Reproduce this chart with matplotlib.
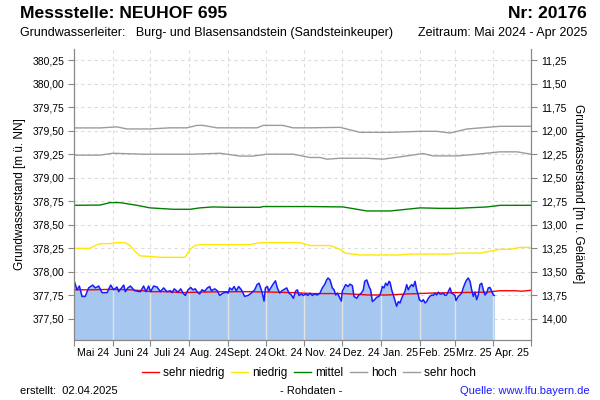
import matplotlib
matplotlib.use("Agg")
import matplotlib.pyplot as plt
from matplotlib.lines import Line2D
from matplotlib.ticker import FuncFormatter, FixedLocator, NullFormatter
import numpy as np
import pandas as pd

plt.rcParams['font.family'] = ['Liberation Sans', 'DejaVu Sans']

# Tage seit 01.05.2024
start = pd.Timestamp('2024-05-01')
gelaende = 391.50  # Geländehöhe [m ü. NN]

# Messwerte (Rohdaten)
mess_tag = [0, 2.4, 4.3, 6.4, 9.0, 11.7, 14.9, 17.0, 19.7, 22.4, 26.4, 29.3, 31.7, 34.3, 35.7,
            39.7, 41.0, 43.0, 45.0, 48.5, 53.0, 55.6, 57.5, 59.6, 61.2, 63.6, 66.3, 69.0, 71.6,
            74.3, 77.0, 78.3, 80.1, 83.1, 85.2, 87.1, 88.9, 91.1, 93.2, 95.0, 96.9, 98.5, 100.4,
            102.2, 104.4, 106.5, 108.4, 109.7, 112.4, 114.5, 116.3, 119.0, 121.7, 123.1, 124.3,
            126.2, 127.8, 129.7, 131.5, 133.7, 135.0, 136.3, 139.0, 141.6, 144.3, 146.2, 147.8,
            149.1, 150.2, 151.8, 152.9, 154.5, 155.5, 157.1, 159.0, 160.9, 162.4, 164.3, 166.1,
            169.9, 171.7, 173.6, 175.2, 177.0, 178.4, 179.7, 181.6, 183.2, 185.0, 186.9, 188.5,
            190.4, 192.2, 194.4, 196.5, 198.3, 200.2, 201.8, 202.9, 204.5, 206.3, 207.7, 209.0,
            210.3, 211.7, 213.5, 214.3, 215.7, 217.0, 218.8, 220.4, 222.3, 223.6, 225.8, 227.6,
            229.5, 231.1, 232.2, 233.8, 235.6, 236.9, 238.3, 240.1, 241.7, 243.6, 244.9, 246.3,
            247.6, 248.9, 250.3, 251.6, 252.4, 253.7, 255.6, 257.7, 259.1, 260.4, 261.7, 263.0,
            264.4, 265.7, 267.0, 268.4, 269.7, 271.0, 272.4, 273.7, 275.0, 275.8, 277.7, 279.0,
            280.4, 281.7, 283.0, 284.3, 285.7, 287.0, 288.3, 289.7, 291.0, 292.3, 293.6, 295.0,
            296.3, 297.6, 299.0, 300.3, 301.6, 302.9, 304.3, 305.1, 306.9, 308.3, 309.6, 310.9,
            312.3, 313.6, 314.9, 316.3, 317.6, 318.9, 320.3, 321.6, 322.9, 324.2, 325.6, 326.9,
            328.2, 329.6, 330.9, 332.2, 333.6, 334.9, 335.7]
mess_wert = [377.91, 377.81, 377.85, 377.74, 377.74, 377.83, 377.86, 377.83, 377.85, 377.78, 377.78,
             377.86, 377.81, 377.84, 377.79, 377.86, 377.79, 377.83, 377.85, 377.80, 377.79, 377.85,
             377.79, 377.85, 377.79, 377.85, 377.84, 377.79, 377.83, 377.79, 377.80, 377.78, 377.82,
             377.785, 377.82, 377.775, 377.75, 377.81, 377.835, 377.81, 377.82, 377.785, 377.765,
             377.81, 377.795, 377.83, 377.845, 377.80, 377.82, 377.80, 377.75, 377.775, 377.785,
             377.775, 377.83, 377.81, 377.845, 377.80, 377.845, 377.81, 377.775, 377.74, 377.75,
             377.775, 377.81, 377.865, 377.88, 377.83, 377.785, 377.69, 377.83, 377.845, 377.795,
             377.83, 377.87, 377.905, 377.83, 377.775, 377.80,
             377.83, 377.775, 377.755, 377.72, 377.795, 377.81, 377.75, 377.765, 377.75, 377.765,
             377.75, 377.775, 377.75, 377.765, 377.755, 377.775, 377.83, 377.865, 377.915, 377.935,
             377.915, 377.83, 377.81, 377.755, 377.775, 377.74, 377.69, 377.795, 377.83, 377.865,
             377.845, 377.87, 377.855, 377.74, 377.72, 377.755, 377.775, 377.81, 377.90, 377.915,
             377.845, 377.81, 377.685, 377.705, 377.73, 377.74, 377.775, 377.845, 377.83, 377.88,
             377.855, 377.90, 377.89, 377.81, 377.73, 377.635, 377.685, 377.67, 377.72, 377.755,
             377.795, 377.865, 377.81, 377.845, 377.865, 377.845, 377.90, 377.81, 377.755, 377.705,
             377.685, 377.705, 377.67, 377.685, 377.72, 377.74, 377.755, 377.75, 377.775, 377.755,
             377.785, 377.765, 377.765, 377.775, 377.75, 377.755, 377.795, 377.83, 377.775, 377.765,
             377.75, 377.695, 377.74, 377.755, 377.775, 377.83, 377.88, 377.915, 377.935, 377.90,
             377.81, 377.74, 377.785, 377.705, 377.755, 377.865, 377.88, 377.81, 377.755, 377.775,
             377.83, 377.835, 377.795, 377.755, 377.75]

# Vergleichswerte
rot_tag = [0, 15, 30, 45, 55, 62, 75, 85, 100, 120, 140, 160, 175, 190, 215, 235, 250, 265, 285,
           305, 330, 340, 352, 358, 365]
rot_wert = [377.81, 377.81, 377.815, 377.81, 377.80, 377.79, 377.79, 377.78, 377.785, 377.79, 377.79,
            377.785, 377.78, 377.77, 377.77, 377.755, 377.755, 377.765, 377.775, 377.78, 377.785,
            377.80, 377.80, 377.795, 377.805]

gelb_tag = [0, 12.8, 16.8, 20.8, 28.8, 32.7, 40.7, 44.7, 48.7, 52.7, 60.7, 68.7, 88.7, 92.7, 96.6,
            100.6, 140.6, 148.6, 180.5, 188.5, 204.5, 212.5, 216.5, 228.4, 260.4, 268.4, 300.3,
            308.3, 324.3, 332.3, 340.3, 348.2, 356.2, 365]
gelb_wert = [378.25, 378.25, 378.28, 378.30, 378.30, 378.31, 378.31, 378.28, 378.22, 378.17, 378.165,
             378.155, 378.155, 378.24, 378.28, 378.29, 378.29, 378.31, 378.31, 378.28, 378.28,
             378.24, 378.20, 378.18, 378.18, 378.19, 378.19, 378.20, 378.20, 378.22, 378.24, 378.24,
             378.26, 378.26]

gruen_tag = [0, 20.8, 28.8, 36.7, 50.3, 60.7, 79.1, 92.7, 100.6, 111, 124.6, 148.6, 151, 188.5,
             214.9, 234, 252.4, 276.4, 292.3, 305.9, 329.9, 340.3, 365]
gruen_wert = [378.707, 378.71, 378.736, 378.736, 378.707, 378.68, 378.665, 378.665, 378.68, 378.69,
              378.686, 378.686, 378.694, 378.694, 378.69, 378.647, 378.647, 378.68, 378.675,
              378.675, 378.69, 378.707, 378.707]

hoch_tag = [0, 20.8, 31.2, 55.1, 95, 116.6, 132.6, 143, 154.2, 174.9, 188.5, 196.5, 202.1, 212.5,
            234, 246.8, 266, 278.8, 286.7, 305.9, 321.9, 340.3, 353.8, 365]
hoch_wert = [379.24, 379.24, 379.26, 379.25, 379.25, 379.26, 379.23, 379.23, 379.25, 379.25, 379.215,
             379.215, 379.197, 379.207, 379.207, 379.197, 379.232, 379.257, 379.232, 379.232,
             379.25, 379.275, 379.275, 379.25]

shoch_tag = [0, 20.8, 34.3, 42.3, 60.7, 76.7, 90.3, 98.2, 103, 114.2, 146.2, 151, 166.9, 174.9,
             188.5, 212.5, 228.4, 252.4, 276.4, 289.9, 300.3, 313.9, 340.3, 365]
shoch_wert = [379.529, 379.529, 379.54, 379.518, 379.518, 379.53, 379.53, 379.556, 379.556, 379.53,
              379.53, 379.556, 379.556, 379.53, 379.53, 379.535, 379.482, 379.482, 379.493,
              379.493, 379.475, 379.518, 379.546, 379.546]

monate = ['Mai 24', 'Juni 24', 'Juli 24', 'Aug. 24', 'Sept. 24', 'Okt. 24', 'Nov. 24', 'Dez. 24',
          'Jan. 25', 'Feb. 25', 'Mrz. 25', 'Apr. 25']

# Monatsgrenzen in Tagen
grenzen = (pd.date_range('2024-05-01', '2025-05-01', freq='MS') - start).days.values.astype(float)
mitten = (grenzen[:-1] + grenzen[1:]) / 2

ymin, ymax = 377.277, 380.367

fig = plt.figure(figsize=(6, 4), dpi=100)
ax = fig.add_axes([74 / 600, 1 - 340 / 400, 457 / 600, 291 / 400])

ax.fill_between(mess_tag, mess_wert, ymin, color='#a6c8f0', lw=0, zorder=2)
# helle Monatslinien in der Fläche
for g in grenzen[1:-1]:
    if g <= mess_tag[-1]:
        ax.vlines(g, ymin, np.interp(g, mess_tag, mess_wert), color='#e2e2e2', lw=1, zorder=2.5)
ax.plot(mess_tag, mess_wert, color='#1a1aff', lw=1.1, zorder=4)
ax.plot(rot_tag, rot_wert, color='#ff0000', lw=1, zorder=3)
ax.plot(gelb_tag, gelb_wert, color='#ffe800', lw=1, zorder=3)
ax.plot(gruen_tag, gruen_wert, color='#008000', lw=1, zorder=3)
ax.plot(hoch_tag, hoch_wert, color='#9c9c9c', lw=1, zorder=3)
ax.plot(shoch_tag, shoch_wert, color='#9c9c9c', lw=1, zorder=3)

ax.set_xlim(0, grenzen[-1])
ax.set_ylim(ymin, ymax)

yt = np.arange(377.50, 380.26, 0.25)
ax.set_yticks(yt)
komma = FuncFormatter(lambda v, p: f'{v:.2f}'.replace('.', ','))
ax.yaxis.set_major_formatter(komma)
ax.xaxis.set_major_locator(FixedLocator(grenzen))
ax.xaxis.set_major_formatter(NullFormatter())
ax.xaxis.set_minor_locator(FixedLocator(mitten))
ax.set_xticklabels(monate, minor=True)
ax.tick_params(axis='x', which='minor', length=0, pad=6, labelsize=7.7)
ax.tick_params(axis='x', which='major', length=4, color='#888888')
ax.tick_params(axis='y', length=4, color='#888888', labelsize=7.5, pad=3)

ax.grid(True, which='major', color='#dcdcdc', linestyle=(0, (3, 3)), lw=0.8)
ax.set_axisbelow(True)
for s in ['left', 'right', 'bottom']:
    ax.spines[s].set_color('#888888')
ax.spines['top'].set_visible(False)

ax2 = ax.twinx()
ax2.set_ylim(gelaende - ymin, gelaende - ymax)
ax2.set_yticks(gelaende - yt)
ax2.yaxis.set_major_formatter(komma)
ax2.tick_params(axis='y', length=4, color='#888888', labelsize=7.5, pad=3)
for s in ['left', 'right', 'bottom']:
    ax2.spines[s].set_color('#888888')
ax2.spines['top'].set_visible(False)

fig.text(20 / 600, 1 - 194 / 400, 'Grundwasserstand [m ü. NN]', rotation=90, fontsize=8.5,
         ha='center', va='center')
fig.text(578 / 600, 1 - 194 / 400, 'Grundwasserstand [m u. Gelände]', rotation=270, fontsize=8.5,
         ha='center', va='center')

fig.text(20 / 600, 1 - 14 / 400, 'Messstelle: NEUHOF 695', fontsize=12.6, fontweight='bold',
         ha='left', va='center')
fig.text(587 / 600, 1 - 14 / 400, 'Nr: 20176', fontsize=12.6, fontweight='bold', ha='right', va='center')
fig.text(20 / 600, 1 - 33 / 400, 'Grundwasserleiter:   Burg- und Blasensandstein (Sandsteinkeuper)',
         fontsize=9, ha='left', va='center')
fig.text(587 / 600, 1 - 33 / 400, 'Zeitraum: Mai 2024 - Apr 2025', fontsize=9, ha='right', va='center')

handles = [Line2D([], [], color=c, lw=1) for c in ['#ff0000', '#ffe800', '#008000', '#9c9c9c', '#9c9c9c']]
fig.legend(handles, ['sehr niedrig', 'niedrig', 'mittel', 'hoch', 'sehr hoch'], ncol=5,
           loc='center', bbox_to_anchor=(309 / 600, 1 - 373 / 400), frameon=False, fontsize=8.5,
           handlelength=1.4, handletextpad=0.35, columnspacing=0.6)

fig.text(20 / 600, 1 - 391 / 400, 'erstellt:  02.04.2025', fontsize=8, ha='left', va='center')
fig.text(311 / 600, 1 - 391 / 400, '- Rohdaten -', fontsize=8, ha='center', va='center')
fig.text(590 / 600, 1 - 391 / 400, 'Quelle: www.lfu.bayern.de', fontsize=8, color='#1a1aff',
         ha='right', va='center')

fig.savefig('out.png', dpi=100)
